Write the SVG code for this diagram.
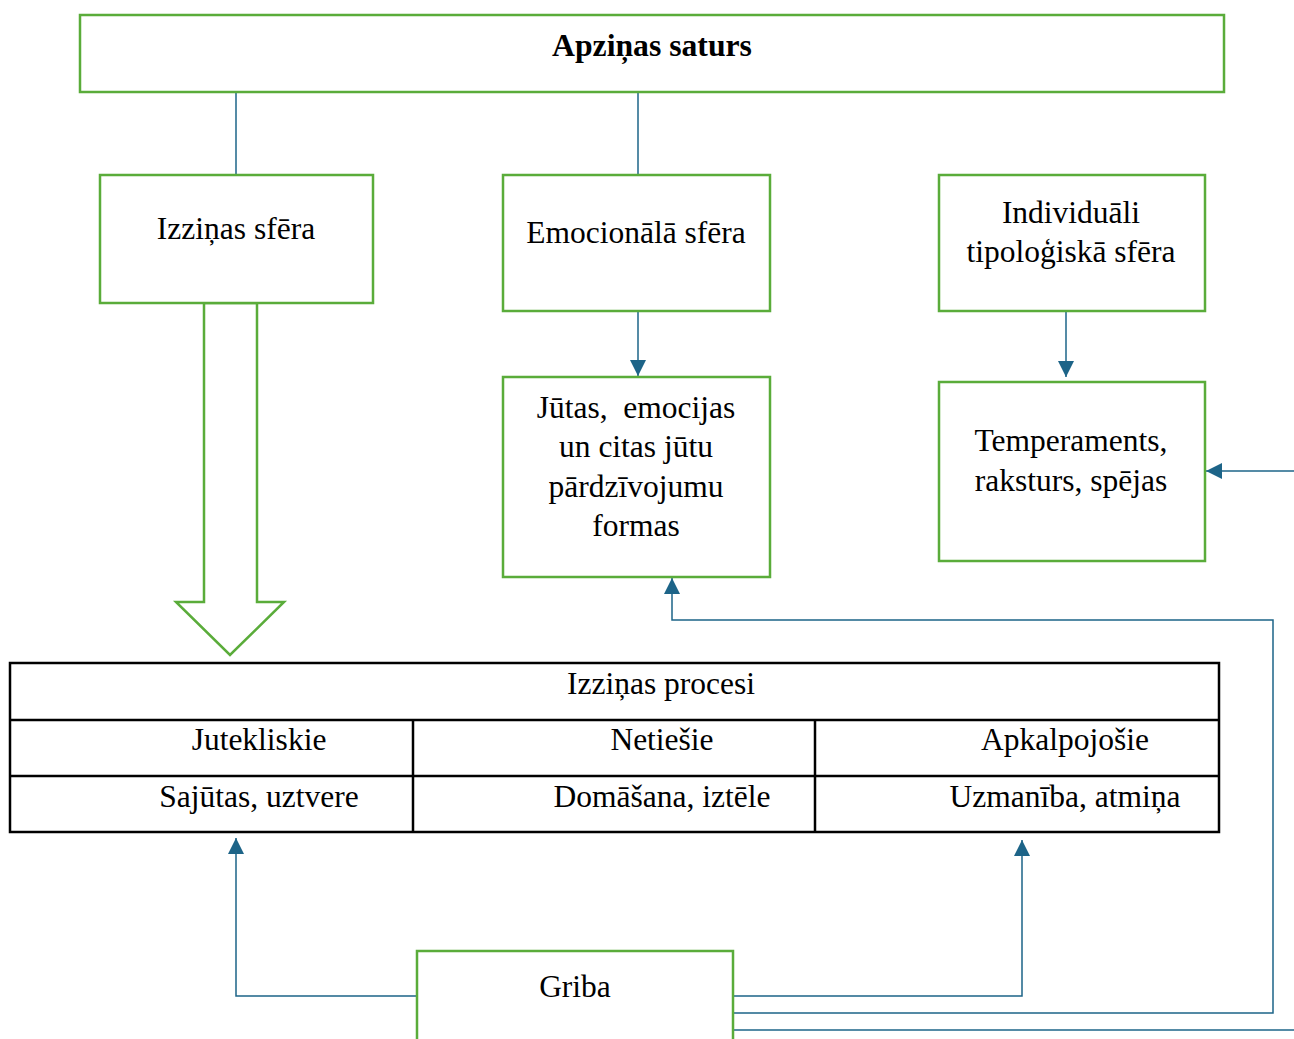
<svg xmlns="http://www.w3.org/2000/svg" width="1294" height="1039" viewBox="0 0 1294 1039">
<defs>
<style>
.box{fill:#fff;stroke:#5aac3a;stroke-width:2.5}
.tbl{fill:none;stroke:#000;stroke-width:2.5}
.t{font-family:"Liberation Serif","Times New Roman",serif;font-size:31.5px;fill:#000;text-anchor:middle}
.b{font-weight:bold;font-size:31.7px}
.c{fill:none;stroke:#1d6488;stroke-width:1.5}
</style>
<marker id="ah" markerUnits="userSpaceOnUse" markerWidth="16" markerHeight="16" viewBox="0 0 16 16" refX="16" refY="8" orient="auto">
<path d="M0,0 L16,8 L0,16 Z" fill="#1d6488"/>
</marker>
</defs>
<rect width="1294" height="1039" fill="#fff"/>
<g id="connectors">
<line class="c" x1="236" y1="92" x2="236" y2="175"/>
<line class="c" x1="638" y1="92" x2="638" y2="175"/>
<line class="c" x1="638" y1="311" x2="638" y2="376" marker-end="url(#ah)"/>
<line class="c" x1="1066" y1="311" x2="1066" y2="377" marker-end="url(#ah)"/>
<line class="c" x1="1294" y1="471" x2="1206" y2="471" marker-end="url(#ah)"/>
<polyline class="c" points="417,996 236,996 236,838" marker-end="url(#ah)"/>
<polyline class="c" points="733,996 1022,996 1022,840" marker-end="url(#ah)"/>
<polyline class="c" points="733,1013 1273,1013 1273,620 672,620 672,578" marker-end="url(#ah)"/>
<line class="c" x1="733" y1="1030" x2="1294" y2="1030"/>
<polygon points="204,303 257,303 257,602 284,602 230,655 176,602 204,602" fill="#fff" stroke="#5aac3a" stroke-width="2.5"/>
</g>
<g id="apzinas-saturs">
<rect class="box" x="80" y="15" width="1144" height="77"/>
<text class="t b" x="652" y="56">Apziņas saturs</text>
</g>
<g id="izzinas-sfera">
<rect class="box" x="100" y="175" width="273" height="128"/>
<text class="t" x="236" y="239">Izziņas sfēra</text>
</g>
<g id="emocionala-sfera">
<rect class="box" x="503" y="175" width="267" height="136"/>
<text class="t" x="636" y="243">Emocionālā sfēra</text>
</g>
<g id="individuali-sfera">
<rect class="box" x="939" y="175" width="266" height="136"/>
<text class="t" x="1071" y="223">Individuāli</text>
<text class="t" x="1071" y="262">tipoloģiskā sfēra</text>
</g>
<g id="jutas">
<rect class="box" x="503" y="377" width="267" height="200"/>
<text class="t" x="636" y="418" xml:space="preserve">Jūtas,  emocijas</text>
<text class="t" x="636" y="457">un citas jūtu</text>
<text class="t" x="636" y="497">pārdzīvojumu</text>
<text class="t" x="636" y="536">formas</text>
</g>
<g id="temperaments">
<rect class="box" x="939" y="382" width="266" height="179"/>
<text class="t" x="1071" y="451">Temperaments,</text>
<text class="t" x="1071" y="491">raksturs, spējas</text>
</g>
<g id="izzinas-procesi">
<rect class="tbl" x="10" y="663" width="1209" height="169"/>
<line class="tbl" x1="10" y1="720" x2="1219" y2="720"/>
<line class="tbl" x1="10" y1="776" x2="1219" y2="776"/>
<line class="tbl" x1="413" y1="720" x2="413" y2="832"/>
<line class="tbl" x1="815" y1="720" x2="815" y2="832"/>
<text class="t" x="661" y="694">Izziņas procesi</text>
<text class="t" x="259" y="750">Jutekliskie</text>
<text class="t" x="662" y="750">Netiešie</text>
<text class="t" x="1065" y="750">Apkalpojošie</text>
<text class="t" x="259" y="807">Sajūtas, uztvere</text>
<text class="t" x="662" y="807">Domāšana, iztēle</text>
<text class="t" x="1065" y="807">Uzmanība, atmiņa</text>
</g>
<g id="griba">
<rect class="box" x="417" y="951" width="316" height="100"/>
<text class="t" x="575" y="997">Griba</text>
</g>
</svg>
